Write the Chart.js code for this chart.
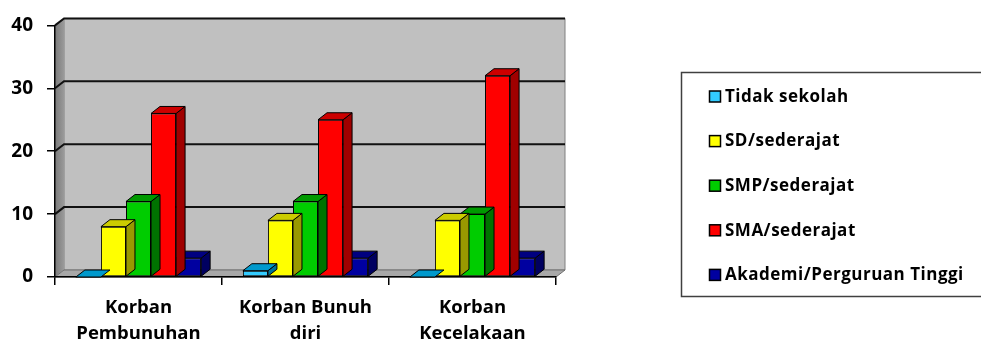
<!DOCTYPE html>
<html>
<head>
<meta charset="utf-8">
<script src="https://cdn.jsdelivr.net/npm/chart.js@4/dist/chart.umd.min.js"></script>
<style>
  html, body { margin: 0; padding: 0; background: #fff; }
  #wrap { width: 981px; height: 345px; }
</style>
</head>
<body>
<div id="wrap"><canvas id="c" width="981" height="345"></canvas></div>
<script>
// Categories (multi-line labels) and the five education-level series
const categories = [['Korban', 'Pembunuhan'], ['Korban Bunuh', 'diri'], ['Korban', 'Kecelakaan']];
const seriesNames = ['Tidak sekolah', 'SD/sederajat', 'SMP/sederajat', 'SMA/sederajat', 'Akademi/Perguruan Tinggi'];
const tidakSekolah = [0, 1, 0];
const sdSederajat = [8, 9, 9];
const smpSederajat = [12, 12, 10];
const smaSederajat = [26, 25, 32];
const akademi = [3, 3, 3];
const yMin = 0, yMax = 40, yStep = 10;

// Face colours: front, top, side
const frontColors = ['#33CCFF', '#FFFF00', '#00CC00', '#FF0000', '#0000A0'];
const topColors   = ['#0099CC', '#CCCC00', '#009900', '#CC0000', '#000080'];
const sideColors  = ['#007399', '#999900', '#007300', '#A00000', '#000060'];

const seriesValues = [tidakSekolah, sdSederajat, smpSederajat, smaSederajat, akademi];
const FONT = '"Open Sans", Lato, sans-serif';
const DX = 9, DY = -7; // oblique depth of the 3-D box

function poly(ctx, pts, fill, stroke, lw) {
  ctx.beginPath();
  ctx.moveTo(pts[0][0], pts[0][1]);
  for (let i = 1; i < pts.length; i++) ctx.lineTo(pts[i][0], pts[i][1]);
  ctx.closePath();
  if (fill) { ctx.fillStyle = fill; ctx.fill(); }
  if (stroke) { ctx.strokeStyle = stroke; ctx.lineWidth = lw || 1; ctx.stroke(); }
}

const box3d = {
  id: 'box3d',
  beforeDraw(chart) {
    const { ctx, chartArea: a, scales } = chart;
    const y = scales.y;
    const L = a.left, R = a.right, T = a.top, B = a.bottom;
    ctx.save();
    // back wall
    poly(ctx, [[L + DX, T + DY], [R + DX, T + DY], [R + DX, B + DY], [L + DX, B + DY]], '#C0C0C0', '#808080', 1);
    // left wall
    const g = ctx.createLinearGradient(L, 0, L + DX, 0);
    g.addColorStop(0, '#7a7a7a'); g.addColorStop(1, '#9a9a9a');
    poly(ctx, [[L, T], [L + DX, T + DY], [L + DX, B + DY], [L, B]], g, null);
    // floor
    poly(ctx, [[L, B], [R, B], [R + DX, B + DY], [L + DX, B + DY]], '#A8A8A8', '#707070', 1);
    // gridlines across left wall and back wall
    ctx.strokeStyle = '#111';
    ctx.lineWidth = 2;
    for (let v = yMin + yStep; v <= yMax; v += yStep) {
      const py = y.getPixelForValue(v);
      ctx.beginPath();
      ctx.moveTo(L, py);
      ctx.lineTo(L + DX, py + DY);
      ctx.lineTo(R + DX, py + DY);
      ctx.stroke();
    }
    ctx.restore();
  },
  afterDatasetDraw(chart, args) {
    const { ctx } = chart;
    const i = args.index;
    const meta = chart.getDatasetMeta(i);
    ctx.save();
    ctx.lineJoin = 'round';
    meta.data.forEach(bar => {
      const p = bar.getProps(['x', 'y', 'base', 'width'], true);
      const l = p.x - p.width / 2, r = p.x + p.width / 2;
      const top = Math.min(p.y, p.base), bot = Math.max(p.y, p.base);
      // side face
      if (bot - top > 0.5) {
        poly(ctx, [[r, top], [r + DX, top + DY], [r + DX, bot + DY], [r, bot]], sideColors[i], '#000', 1);
      }
      // top face
      poly(ctx, [[l, top], [l + DX, top + DY], [r + DX, top + DY], [r, top]], topColors[i], '#000', 1);
    });
    ctx.restore();
  },
  afterDraw(chart) {
    const { ctx } = chart;
    ctx.save();
    // legend frame
    ctx.strokeStyle = '#404040';
    ctx.lineWidth = 1.5;
    ctx.strokeRect(681.5, 72.5, 330, 224);
    ctx.font = 'bold 17px ' + FONT;
    ctx.letterSpacing = '0.5px';
    ctx.textBaseline = 'middle';
    ctx.textAlign = 'left';
    chart.data.datasets.forEach((ds, k) => {
      const cy = 97 + k * 44.6;
      ctx.fillStyle = ds.backgroundColor;
      ctx.fillRect(709.5, cy - 6, 11, 11);
      ctx.strokeStyle = '#000';
      ctx.lineWidth = 1.5;
      ctx.strokeRect(709.5, cy - 6, 11, 11);
      ctx.fillStyle = '#000';
      ctx.fillText(ds.label, 725, cy);
    });
    ctx.restore();
  }
};

const datasets = seriesNames.map((name, k) => ({
  label: name,
  data: seriesValues[k],
  backgroundColor: frontColors[k],
  borderColor: '#000',
  borderWidth: 1,
  borderSkipped: false,
  categoryPercentage: 0.75,
  barPercentage: 1.0
}));

const canvas = document.getElementById('c');
// slightly open tracking for all chart text
canvas.getContext('2d').letterSpacing = '0.45px';

new Chart(canvas, {
  type: 'bar',
  data: { labels: categories, datasets },
  plugins: [box3d],
  options: {
    responsive: false,
    animation: false,
    devicePixelRatio: 1,
    layout: { padding: { top: 25, right: 425, bottom: 0, left: 0 } },
    plugins: { legend: { display: false }, tooltip: { enabled: false } },
    scales: {
      x: {
        afterFit(s) { s.height = 68; },
        grid: { display: true, offset: true, drawOnChartArea: false, drawTicks: true, tickLength: 8, color: '#000', lineWidth: 1.5 },
        border: { display: true, color: '#000', width: 1.5 },
        ticks: { color: '#000', padding: 10, font: { family: FONT, weight: 'bold', size: 18.5, lineHeight: '26px' }, maxRotation: 0 }
      },
      y: {
        min: yMin, max: yMax,
        afterFit(s) { s.width = 55; },
        grid: { display: true, drawOnChartArea: false, drawTicks: true, tickLength: 8, color: '#000', lineWidth: 1.5 },
        border: { display: true, color: '#000', width: 1.5 },
        ticks: { stepSize: yStep, color: '#000', padding: 14, font: { family: FONT, weight: 'bold', size: 19 } }
      }
    }
  }
});
</script>
</body>
</html>
